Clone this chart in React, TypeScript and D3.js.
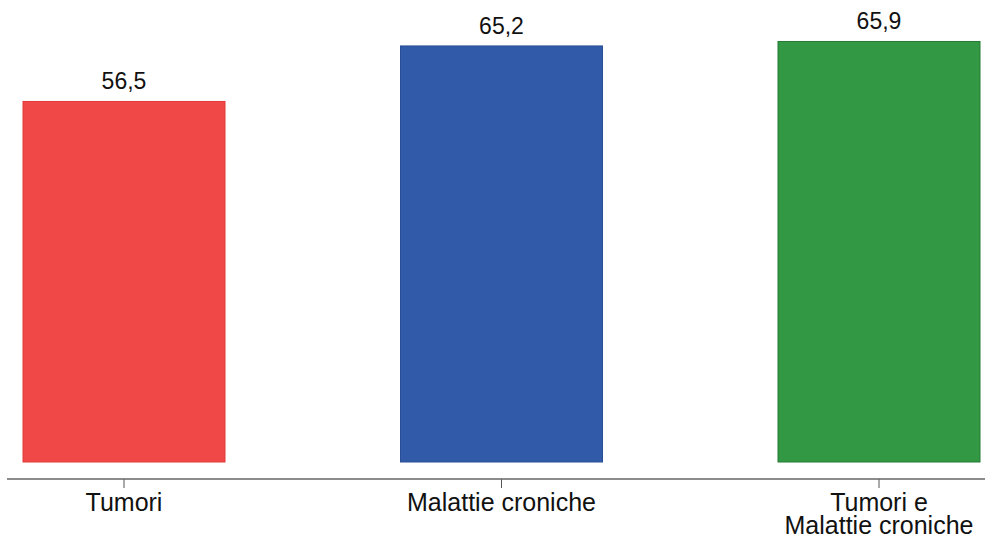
import React from "react";
import * as d3 from "d3";

const categories: string[][] = [["Tumori"], ["Malattie croniche"], ["Tumori e", "Malattie croniche"]];
const keys = ["t", "m", "tm"];
const values = [56.5, 65.2, 65.9];
const colors = ["#F04846", "#315BA8", "#329844"];
const strokes = ["#E03A38", "#2A4F96", "#247A33"];

const W = 985;
const H = 542;

export default function App() {
  const x = d3.scalePoint<string>().domain(keys).range([124, 879]);
  const barW = 202;
  const y = d3.scaleLinear().domain([0, 72.4]).range([462, 0]);
  const fmt = (v: number) => d3.format(".1f")(v).replace(".", ",");
  const font = "Liberation Sans, Arial, sans-serif";
  return (
    <svg width={W} height={H} style={{ position: "absolute", left: 0, top: 0 }} fontFamily={font}>
      <rect width={W} height={H} fill="#fff" />
      {keys.map((k, i) => (
        <g key={k}>
          <rect
            x={(x(k) as number) - barW / 2}
            y={y(values[i])}
            width={barW}
            height={y(0) - y(values[i])}
            fill={colors[i]}
            stroke={strokes[i]}
            strokeWidth={1}
          />
          <text x={x(k)} y={y(values[i]) - 12} textAnchor="middle" fontSize={23} fill="#111">
            {fmt(values[i])}
          </text>
          <line x1={x(k)} x2={x(k)} y1={479} y2={488} stroke="#555" strokeWidth={1} />
          {categories[i].map((line, j) => (
            <text key={j} x={x(k)} y={511 + j * 23} textAnchor="middle" fontSize={25} fill="#111">
              {line}
            </text>
          ))}
        </g>
      ))}
      <line x1={7} x2={985} y1={479} y2={479} stroke="#666" strokeWidth={1.5} />
    </svg>
  );
}
